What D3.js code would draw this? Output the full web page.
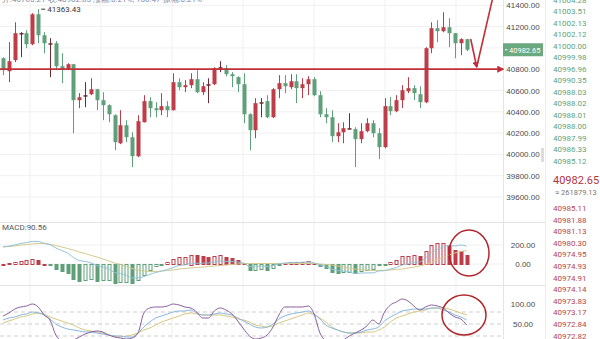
<!doctype html>
<html>
<head>
<meta charset="utf-8">
<script src="https://cdnjs.cloudflare.com/ajax/libs/d3/7.8.5/d3.min.js"></script>
<style>
  body { margin: 0; background: #fff; }
  svg { display: block; font-family: Roboto, "Noto Sans", sans-serif; }
  .grid line { stroke: #f0f0f0; stroke-width: 1; }
  .axis text { font-size: 8px; fill: #4a4a4a; }
  .book text { font-size: 8px; }
</style>
</head>
<body>
<svg width="600" height="339"></svg>
<script>
// candles (price)
var opens = [40903, 40781, 40885, 41132, 41138, 41035, 41316, 41119, 41044, 41044,
  40828, 40800, 40847, 40509, 40546, 40565, 40612, 40509, 40462, 40368,
  40105, 40274, 40161, 39983, 40302, 40500, 40434, 40415, 40453, 40415,
  40678, 40631, 40650, 40706, 40584, 40650, 40659, 40814, 40809, 40753,
  40725, 40659, 40377, 40227, 40486, 40500, 40349, 40612, 40669, 40631,
  40687, 40622, 40659, 40706, 40556, 40377, 40349, 40171, 40208, 40241,
  40237, 40143, 40218, 40293, 40199, 40068, 40453, 40406, 40509, 40593,
  40622, 40565, 40490, 40997, 41185, 41157, 41194, 41138, 41044, 41082];
var closes = [40791, 40875, 41138, 41140, 41035, 41316, 41119, 41044, 41039, 40828,
  40800, 40847, 40509, 40537, 40556, 40612, 40509, 40462, 40377, 40115,
  40274, 40161, 39983, 40312, 40500, 40434, 40415, 40453, 40415, 40678,
  40631, 40650, 40706, 40584, 40640, 40659, 40809, 40819, 40753, 40734,
  40659, 40377, 40227, 40481, 40490, 40349, 40612, 40669, 40640, 40687,
  40622, 40659, 40706, 40556, 40377, 40349, 40171, 40208, 40246, 40246,
  40143, 40218, 40293, 40199, 40068, 40453, 40406, 40509, 40603, 40622,
  40575, 40490, 40997, 41185, 41157, 41194, 41138, 41044, 41082, 40982.65];
var highs = [40913, 41054, 41241, 41148, 41166, 41326, 41363.43, 41147, 41091, 41063,
  40950, 40856, 40850, 40575, 40678, 40715, 40615, 40584, 40471, 40377,
  40415, 40321, 40208, 40368, 40556, 40537, 40490, 40575, 40500, 40762,
  40715, 40697, 40762, 40791, 40678, 40715, 40819, 40875, 40838, 40772,
  40734, 40762, 40387, 40528, 40528, 40556, 40622, 40744, 40744, 40753,
  40753, 40715, 40734, 40725, 40593, 40434, 40415, 40293, 40302, 40387,
  40255, 40293, 40340, 40321, 40246, 40528, 40537, 40556, 40650, 40725,
  40650, 40640, 41007, 41241, 41260, 41335, 41279, 41140, 41091, 41085];
var lows = [40744, 40678, 40866, 40913, 40997, 41025, 41044, 40950, 40725, 40791,
  40669, 40791, 40199, 40434, 40443, 40556, 40415, 40321, 40302, 40039,
  40096, 40115, 39880, 39974, 40300, 40349, 40349, 40368, 40349, 40412,
  40603, 40584, 40622, 40575, 40556, 40481, 40650, 40772, 40734, 40631,
  40584, 40293, 40039, 40152, 40349, 40340, 40340, 40528, 40575, 40612,
  40481, 40528, 40556, 40546, 40349, 40293, 40115, 40115, 40105, 40237,
  39880, 40105, 40208, 40161, 39955, 40058, 40368, 40396, 40434, 40575,
  40509, 40434, 40481, 40950, 41054, 41147, 41007, 40903, 40931, 40969];

// MACD
var macdHist = [5, 8, 20, 35, 40, 55, 45, 5, -3, -53,
  -74, -95, -158, -179, -168, -158, -179, -168, -165, -200,
  -190, -185, -200, -168, -116, -63, -21, -3, 21, 53,
  74, 76, 100, 90, 82, 74, 84, 95, 76, 63,
  42, 8, -63, -60, -53, -65, -42, -5, 10, 21,
  24, 26, 32, 12, -21, -42, -84, -95, -88, -85,
  -97, -74, -63, -53, -12, -4, 21, 42, 84, 86,
  95, 84, 137, 200, 221, 224, 200, 147, 137, 90.56];
var macdDif = [182, 188, 200, 217, 225, 238, 238, 218, 204, 169,
  142, 116, 68, 36, 27, 11, -16, -31, -50, -89,
  -100, -118, -147, -147, -132, -111, -89, -76, -58, -37,
  -16, -9, 8, 8, 9, 11, 21, 31, 27, 26,
  21, 9, -26, -25, -21, -27, -16, 3, 10, 15,
  17, 18, 21, 11, -10, -26, -53, -68, -76, -84,
  -101, -95, -94, -94, -74, -70, -53, -37, -11, 1,
  15, 21, 63, 116, 152, 180, 195, 190, 200, 187];
var macdDea = [179, 184, 190, 200, 205, 211, 216, 216, 205, 195,
  179, 163, 147, 126, 111, 90, 74, 53, 32, 11,
  -5, -26, -47, -63, -74, -79, -79, -74, -68, -63,
  -53, -47, -42, -37, -32, -26, -21, -16, -11, -5,
  0, 5, 5, 5, 5, 5, 5, 5, 5, 5,
  5, 5, 5, 5, 0, -5, -11, -21, -32, -42,
  -53, -58, -63, -68, -68, -68, -63, -58, -53, -42,
  -32, -21, -5, 16, 42, 68, 95, 116, 132, 142];

// KDJ
var kdjPurple = [70, 77.5, 87.5, 92.5, 95, 100, 92.5, 72.5, 60, 22.5,
  7.5, 5, 10, 17.5, 25, 30, 32.5, 30, 22.5, 17.5,
  15, 12.5, 15, 27.5, 77.5, 90, 92.5, 92.5, 95, 100,
  97.5, 92.5, 90, 80, 65, 65, 82.5, 90, 85, 75,
  57.5, 37.5, 20, 12.5, 15, 22.5, 42.5, 72.5, 92.5, 92.5,
  92.5, 92.5, 95, 75, 27.5, 7.5, 0, 2.5, 10, 20,
  27.5, 35, 45, 60, 50, 80, 97.5, 105, 112.5, 107.5,
  95, 85, 92.5, 97.5, 95, 90, 77.5, 67.5, 62.5, 47.5];
var kdjBlue = [60, 65, 67.5, 72.5, 75, 80, 77.5, 72.5, 62.5, 50,
  42.5, 37.5, 35, 32.5, 30, 30, 27.5, 25, 22.5, 20,
  20, 17.5, 17.5, 27.5, 42.5, 55, 65, 70, 75, 80,
  82.5, 82.5, 85, 77.5, 72.5, 72.5, 75, 77.5, 75, 72.5,
  65, 57.5, 50, 42.5, 40, 42.5, 50, 62.5, 70, 75,
  77.5, 80, 82.5, 75, 62.5, 47.5, 40, 35, 30, 27.5,
  27.5, 30, 35, 37.5, 42.5, 57.5, 67.5, 75, 82.5, 85,
  87.5, 87.5, 87.5, 90, 90, 85, 80, 72.5, 67.5, 60];
var kdjYellow = [52.5, 57.5, 62.5, 67.5, 70, 75, 77.5, 75, 67.5, 62.5,
  57.5, 52.5, 47.5, 40, 35, 32.5, 30, 27.5, 22.5, 20,
  17.5, 20, 22.5, 27.5, 35, 40, 47.5, 55, 60, 65,
  70, 75, 77.5, 75, 72.5, 72.5, 72.5, 72.5, 70, 67.5,
  62.5, 60, 55, 47.5, 45, 42.5, 45, 52.5, 57.5, 62.5,
  67.5, 72.5, 77.5, 72.5, 65, 55, 42.5, 35, 30, 27.5,
  27.5, 27.5, 30, 30, 35, 42.5, 55, 65, 70, 75,
  80, 82.5, 85, 90, 90, 90, 87.5, 82.5, 77.5, 72.5];

// axis ticks
var priceTicks = [41400, 41200, 40800, 40600, 40400, 40200, 40000, 39800, 39600];
var macdTicks = [200, 0];
var kdjTicks = [100, 50];
var kdjLevels = [80, 50, 20];

// order book
var asks = ["41004.28", "41003.51", "41002.13", "41002.12", "41000.00", "40999.98", "40996.96",
  "40990.35", "40988.03", "40988.02", "40988.01", "40988.00", "40987.99", "40986.33", "40985.12"];
var bids = ["40985.11", "40981.88", "40981.13", "40980.30", "40974.95", "40974.93", "40974.91",
  "40974.14", "40973.83", "40973.17", "40972.84", "40972.82"];
var lastPrice = 40982.65;
var lastCny = "≈ 261879.13";
var highLabel = 41363.43;
var macdLabel = "MACD:90.56";
var trendPrice = 40800;

var RED = "#bd3d48", GREEN = "#5f9f79", DOJI = "#6e2a31";
var N = closes.length;
var svg = d3.select("svg");
var plotR = 503;

var x = d3.scaleLinear().domain([0, N - 1]).range([3, 466.7]);
var yP = d3.scaleLinear().domain([39600, 41400]).range([197, 5.3]);
var yM = d3.scaleLinear().domain([0, 200]).range([264, 245]);
var yK = d3.scaleLinear().domain([0, 100]).range([344, 304]);

var defs = svg.append("defs");
[["cMain", 0, 222], ["cMacd", 222, 63], ["cKdj", 285, 54]].forEach(function (c) {
  defs.append("clipPath").attr("id", c[0]).append("rect")
    .attr("x", 0).attr("y", c[1]).attr("width", plotR).attr("height", c[2]);
});
defs.append("marker").attr("id", "arr").attr("viewBox", "0 0 10 10")
  .attr("refX", 8).attr("refY", 5).attr("markerWidth", 4).attr("markerHeight", 4)
  .attr("orient", "auto")
  .append("path").attr("d", "M0,0L10,5L0,10z").attr("fill", "#c0303a");

// header (cut at top)
svg.append("text").attr("x", 2).attr("y", 2).attr("font-size", 8).attr("fill", "#7d8aa6")
  .text("开:40780.21 收:40982.65 涨幅:0.21%, 168.47 振幅:0.21%");

// grid
var grid = svg.append("g").attr("class", "grid");
[30, 101, 172, 243, 314, 385, 456].forEach(function (gx) {
  grid.append("line").attr("x1", gx).attr("x2", gx).attr("y1", 0).attr("y2", 339);
});
priceTicks.concat([41000]).forEach(function (t) {
  grid.append("line").attr("x1", 0).attr("x2", plotR).attr("y1", yP(t)).attr("y2", yP(t));
});
macdTicks.forEach(function (t) {
  grid.append("line").attr("x1", 0).attr("x2", plotR).attr("y1", yM(t)).attr("y2", yM(t));
});

// separators
svg.append("line").attr("x1", 0).attr("x2", 545).attr("y1", 222.5).attr("y2", 222.5).attr("stroke", "#e4e4e4");
svg.append("line").attr("x1", 0).attr("x2", 545).attr("y1", 285.5).attr("y2", 285.5).attr("stroke", "#e4e4e4");
svg.append("line").attr("x1", plotR + 0.5).attr("x2", plotR + 0.5).attr("y1", 0).attr("y2", 339).attr("stroke", "#e4e4e4");
svg.append("line").attr("x1", 545.5).attr("x2", 545.5).attr("y1", 0).attr("y2", 339).attr("stroke", "#ececec");
svg.append("rect").attr("x", 541).attr("y", 148).attr("width", 3).attr("height", 14).attr("fill", "#dcdcdc");

// candles
var cand = d3.range(N).map(function (i) {
  return { i: i, o: opens[i], h: highs[i], l: lows[i], c: closes[i] };
});
function candColor(d) {
  if (Math.abs(yP(d.o) - yP(d.c)) < 1.2) return DOJI;
  return d.c >= d.o ? RED : GREEN;
}
var main = svg.append("g").attr("clip-path", "url(#cMain)");
main.selectAll("line.wick").data(cand).enter().append("line")
  .attr("class", "wick")
  .attr("x1", function (d) { return Math.round(x(d.i)) + 0.5; })
  .attr("x2", function (d) { return Math.round(x(d.i)) + 0.5; })
  .attr("y1", function (d) { return yP(d.h); })
  .attr("y2", function (d) { return yP(d.l); })
  .attr("stroke", candColor).attr("stroke-width", 1);
main.selectAll("rect.body").data(cand).enter().append("rect")
  .attr("class", "body")
  .attr("x", function (d) { return Math.round(x(d.i)) - 1.5; })
  .attr("width", 4)
  .attr("y", function (d) { return yP(Math.max(d.o, d.c)); })
  .attr("height", function (d) { return Math.max(1.5, Math.abs(yP(d.o) - yP(d.c))); })
  .attr("fill", candColor);

// high label
var hi = highs.indexOf(highLabel);
svg.append("line").attr("x1", x(hi) + 3).attr("x2", x(hi) + 7)
  .attr("y1", yP(highLabel)).attr("y2", yP(highLabel)).attr("stroke", "#333");
svg.append("text").attr("x", x(hi) + 9).attr("y", yP(highLabel) + 3)
  .attr("font-size", 8).attr("fill", "#333").text(highLabel.toFixed(2));

// trend line + arrows
svg.append("line").attr("x1", 0).attr("x2", plotR).attr("y1", yP(trendPrice)).attr("y2", yP(trendPrice))
  .attr("stroke", "#c0303a").attr("stroke-width", 1.8).attr("marker-end", "url(#arr)");
svg.append("line").attr("x1", x(N - 1) + 4).attr("y1", 39).attr("x2", x(N - 1) + 10).attr("y2", 67)
  .attr("stroke", "#c0303a").attr("stroke-width", 1.6).attr("marker-end", "url(#arr)");
svg.append("line").attr("x1", x(N - 1) + 10).attr("y1", 67).attr("x2", x(N - 1) + 26).attr("y2", -2)
  .attr("stroke", "#c0303a").attr("stroke-width", 1.6);

// price axis
var ax = svg.append("g").attr("class", "axis").attr("transform", "translate(" + plotR + ",0)")
  .call(d3.axisRight(yP).tickValues(priceTicks).tickFormat(d3.format(".2f")).tickSize(0));
ax.select(".domain").remove();
ax.selectAll("text").attr("x", 20).attr("text-anchor", "middle");

// last price box
svg.append("rect").attr("x", plotR).attr("y", yP(lastPrice) - 6.5).attr("width", 40).attr("height", 13)
  .attr("fill", "#6aa980");
svg.append("line").attr("x1", plotR + 2).attr("x2", plotR + 4.5).attr("y1", yP(lastPrice)).attr("y2", yP(lastPrice))
  .attr("stroke", "#fff");
svg.append("text").attr("x", plotR + 6).attr("y", yP(lastPrice) + 2.8)
  .attr("fill", "#fff").style("font-size", "7.5px").text(lastPrice.toFixed(2));

// MACD pane
var mg = svg.append("g").attr("clip-path", "url(#cMacd)");
svg.append("text").attr("x", 2).attr("y", 230).attr("font-size", 8).attr("fill", "#555").text(macdLabel);
var bars = macdHist.map(function (v, i) {
  var prev = i > 0 ? macdHist[i - 1] : v;
  var filled = v >= 0 ? v < prev : v <= prev;
  return { i: i, v: v, filled: filled, col: v >= 0 ? RED : GREEN };
});
mg.selectAll("rect.hist").data(bars).enter().append("rect")
  .attr("class", "hist")
  .attr("x", function (d) { return Math.round(x(d.i)) - 1; })
  .attr("width", 3)
  .attr("y", function (d) { return Math.round(Math.min(yM(d.v), yM(0))) + 0.5; })
  .attr("height", function (d) { return Math.max(1, Math.round(Math.abs(yM(d.v) - yM(0)))); })
  .attr("fill", function (d) { return d.filled ? d.col : "#fff"; })
  .attr("stroke", function (d) { return d.col; })
  .attr("stroke-width", 1);
var lineM = function (arr) {
  return d3.line().x(function (d, i) { return x(i); }).y(function (d) { return yM(d); })
    .curve(d3.curveMonotoneX)(arr);
};
mg.append("path").attr("d", lineM(macdDea)).attr("fill", "none").attr("stroke", "#d6c98c").attr("stroke-width", 1);
mg.append("path").attr("d", lineM(macdDif)).attr("fill", "none").attr("stroke", "#8fc3d6").attr("stroke-width", 1);
var axM = svg.append("g").attr("class", "axis").attr("transform", "translate(" + plotR + ",0)")
  .call(d3.axisRight(yM).tickValues(macdTicks).tickFormat(d3.format(".2f")).tickSize(0));
axM.select(".domain").remove();
axM.selectAll("text").attr("x", 20).attr("text-anchor", "middle");

// KDJ pane
var kg = svg.append("g").attr("clip-path", "url(#cKdj)");
kdjLevels.forEach(function (t) {
  kg.append("line").attr("x1", 0).attr("x2", plotR).attr("y1", yK(t)).attr("y2", yK(t))
    .attr("stroke", "#cfcfcf").attr("stroke-dasharray", "4,3");
});
var lineK = function (arr) {
  return d3.line().x(function (d, i) { return x(i); }).y(function (d) { return yK(d); })
    .curve(d3.curveMonotoneX)(arr);
};
kg.append("path").attr("d", lineK(kdjYellow)).attr("fill", "none").attr("stroke", "#d8c77e").attr("stroke-width", 1);
kg.append("path").attr("d", lineK(kdjBlue)).attr("fill", "none").attr("stroke", "#86b6dc").attr("stroke-width", 1);
kg.append("path").attr("d", lineK(kdjPurple)).attr("fill", "none").attr("stroke", "#8b5fa0").attr("stroke-width", 1);
var axK = svg.append("g").attr("class", "axis").attr("transform", "translate(" + plotR + ",0)")
  .call(d3.axisRight(yK).tickValues(kdjTicks).tickFormat(d3.format(".2f")).tickSize(0));
axK.select(".domain").remove();
axK.selectAll("text").attr("x", 20).attr("text-anchor", "middle");

// circles
svg.append("ellipse").attr("cx", 469).attr("cy", 253).attr("rx", 20).attr("ry", 23)
  .attr("fill", "none").attr("stroke", "#b0262d").attr("stroke-width", 1.5);
svg.append("ellipse").attr("cx", 464).attr("cy", 315).attr("rx", 22).attr("ry", 20)
  .attr("fill", "none").attr("stroke", "#b0262d").attr("stroke-width", 1.5);

// order book
var book = svg.append("g").attr("class", "book");
book.selectAll("text.ask").data(asks).enter().append("text")
  .attr("class", "ask").attr("x", 553).attr("y", function (d, i) { return i * 11.5 + 2.5; })
  .attr("fill", "#62a37a").text(function (d) { return d; });
book.append("text").attr("x", 553).attr("y", 184).attr("fill", "#b3343e")
  .style("font-size", "11px").text(lastPrice.toFixed(2));
book.append("text").attr("x", 555).attr("y", 195).attr("fill", "#777").style("font-size", "7.5px").text(lastCny);
book.selectAll("text.bid").data(bids).enter().append("text")
  .attr("class", "bid").attr("x", 553).attr("y", function (d, i) { return 211 + i * 11.6; })
  .attr("fill", "#b5474b").text(function (d) { return d; });
</script>
</body>
</html>
